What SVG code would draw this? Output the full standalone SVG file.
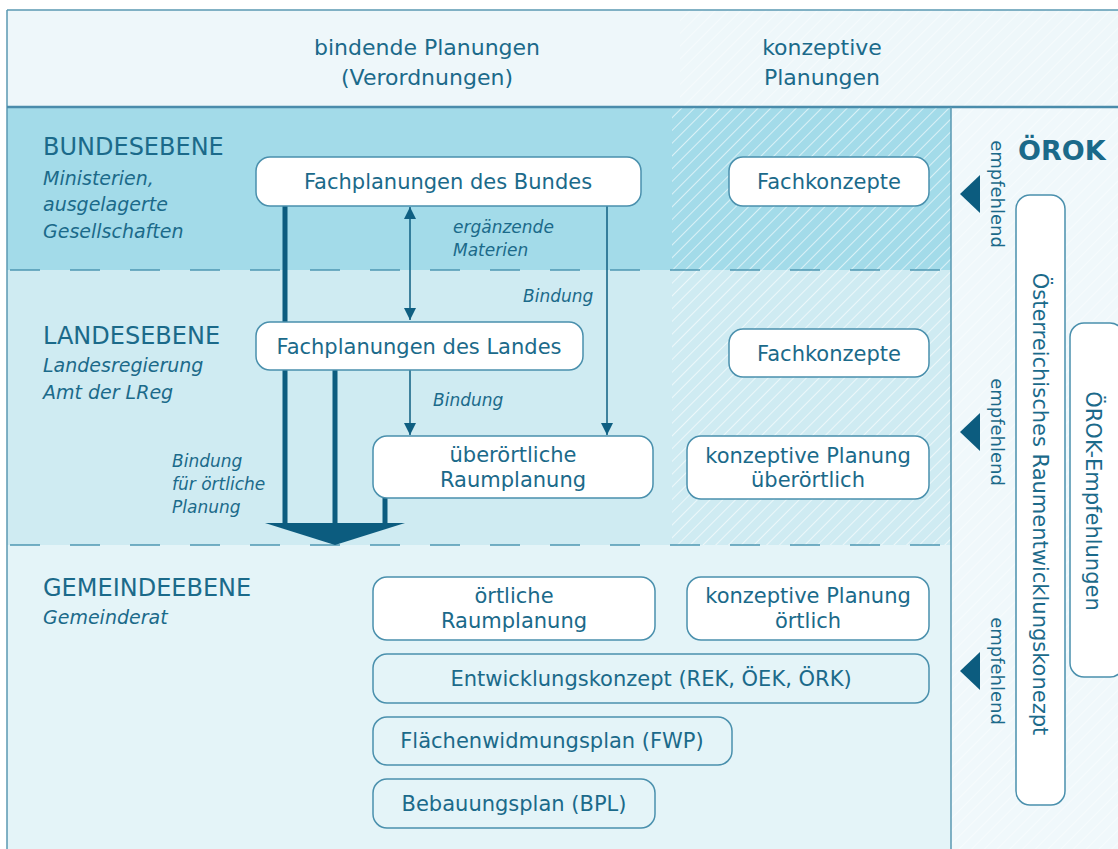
<svg xmlns="http://www.w3.org/2000/svg" width="1118" height="849" viewBox="0 0 1118 849">
<defs>
<pattern id="hatch" patternUnits="userSpaceOnUse" width="9" height="9" patternTransform="rotate(45)">
<line x1="0" y1="0" x2="0" y2="9" stroke="#ffffff" stroke-width="1.4" stroke-opacity="0.85"/>
</pattern>
<pattern id="hatchFaint" patternUnits="userSpaceOnUse" width="9" height="9" patternTransform="rotate(45)">
<line x1="0" y1="0" x2="0" y2="9" stroke="#ffffff" stroke-width="1.2" stroke-opacity="0.7"/>
</pattern>
<marker id="ah" markerUnits="userSpaceOnUse" markerWidth="12" markerHeight="12" viewBox="0 0 12 12" refX="12" refY="6" orient="auto-start-reverse">
<path d="M0,0 L12,6 L0,12 Z" fill="#0f5f82"/>
</marker>
<style>
.t{font-family:"DejaVu Sans",sans-serif;fill:#1b6a8a;}
.bx{font-size:21px;text-anchor:middle;}
.hd{font-size:24px;}
.it{font-family:"DejaVu Sans",sans-serif;font-style:italic;fill:#1b6a8a;font-size:19px;}
.lb{font-family:"DejaVu Sans",sans-serif;font-style:italic;fill:#1b6a8a;font-size:17px;}
.box{fill:#ffffff;stroke:#4a90ad;stroke-width:1.5;}
.boxo{fill:none;stroke:#4a90ad;stroke-width:1.5;}
.dash{stroke:#4f98b3;stroke-width:1.5;stroke-dasharray:30 30;}
.thin{stroke:#0f5f82;stroke-width:1.5;fill:none;}
.thick{stroke:#0c5c7f;stroke-width:5;fill:none;}
.tri{fill:#0c5c7f;}
.vt{font-family:"DejaVu Sans",sans-serif;fill:#1b6a8a;text-anchor:middle;}
</style>
</defs>

<!-- backgrounds -->
<rect x="0" y="0" width="1118" height="849" fill="#ffffff"/>
<rect x="7" y="10" width="1111" height="97" fill="#eef7fa"/>
<rect x="680" y="10" width="438" height="97" fill="url(#hatchFaint)"/>
<rect x="7" y="107" width="944" height="163" fill="#a3dbe9"/>
<rect x="7" y="270" width="944" height="275" fill="#cfebf2"/>
<rect x="7" y="545" width="944" height="304" fill="#e4f4f8"/>
<rect x="672" y="107" width="279" height="438" fill="url(#hatch)"/>
<rect x="951" y="107" width="167" height="742" fill="#f0f8fb"/>
<rect x="951" y="107" width="167" height="742" fill="url(#hatchFaint)"/>

<!-- frame lines -->
<line x1="7" y1="10" x2="1118" y2="10" stroke="#5a98b2" stroke-width="1.5"/>
<line x1="7" y1="10" x2="7" y2="849" stroke="#5a98b2" stroke-width="1.5"/>
<line x1="7" y1="107" x2="1118" y2="107" stroke="#4a8cab" stroke-width="2.5"/>
<line x1="951" y1="107" x2="951" y2="849" stroke="#5a98b2" stroke-width="1.5"/>
<line class="dash" x1="10" y1="270" x2="951" y2="270"/>
<line class="dash" x1="10" y1="545" x2="951" y2="545"/>

<!-- header texts -->
<text class="t" font-size="22" text-anchor="middle" x="427" y="55">bindende Planungen</text>
<text class="t" font-size="22" text-anchor="middle" x="427" y="85">(Verordnungen)</text>
<text class="t" font-size="22" text-anchor="middle" x="822" y="55">konzeptive</text>
<text class="t" font-size="22" text-anchor="middle" x="822" y="85">Planungen</text>

<!-- level labels -->
<g id="bundesebene">
<text class="t hd" x="43" y="155">BUNDESEBENE</text>
<text class="it" x="43" y="185">Ministerien,</text>
<text class="it" x="43" y="211">ausgelagerte</text>
<text class="it" x="43" y="238">Gesellschaften</text>
</g>
<g id="landesebene">
<text class="t hd" x="43" y="344">LANDESEBENE</text>
<text class="it" x="43" y="372">Landesregierung</text>
<text class="it" x="43" y="399">Amt der LReg</text>
</g>
<g id="gemeindeebene">
<text class="t hd" x="43" y="596">GEMEINDEEBENE</text>
<text class="it" x="43" y="624">Gemeinderat</text>
</g>

<!-- connectors -->
<g id="connectors">
<line class="thick" x1="285" y1="206" x2="285" y2="525"/>
<line class="thick" x1="335" y1="370" x2="335" y2="525"/>
<line class="thick" x1="385" y1="498" x2="385" y2="525"/>
<path class="tri" d="M265,523 L405,523 L335,545 Z"/>
<line class="thin" x1="410" y1="207" x2="410" y2="320" marker-start="url(#ah)" marker-end="url(#ah)"/>
<line class="thin" x1="607" y1="206" x2="607" y2="435" marker-end="url(#ah)"/>
<line class="thin" x1="410" y1="370" x2="410" y2="435" marker-end="url(#ah)"/>
<text class="lb" x="453" y="233">ergänzende</text>
<text class="lb" x="453" y="256">Materien</text>
<text class="lb" x="523" y="302">Bindung</text>
<text class="lb" x="433" y="406">Bindung</text>
<text class="lb" x="172" y="467">Bindung</text>
<text class="lb" x="172" y="490">für örtliche</text>
<text class="lb" x="172" y="513">Planung</text>
<path class="tri" d="M960,194 L980,175 L980,213 Z"/>
<path class="tri" d="M960,432 L980,413 L980,451 Z"/>
<path class="tri" d="M960,671 L980,652 L980,690 Z"/>
<text class="vt" font-size="18" transform="translate(991,194) rotate(90)">empfehlend</text>
<text class="vt" font-size="18" transform="translate(991,432) rotate(90)">empfehlend</text>
<text class="vt" font-size="18" transform="translate(991,671) rotate(90)">empfehlend</text>
</g>

<!-- nodes -->
<g id="fachplanungen-bund">
<rect class="box" x="256" y="157" width="385" height="49" rx="14"/>
<text class="t bx" x="448" y="189">Fachplanungen des Bundes</text>
</g>
<g id="fachkonzepte-bund">
<rect class="box" x="729" y="157" width="200" height="49" rx="14"/>
<text class="t bx" x="829" y="189">Fachkonzepte</text>
</g>
<g id="fachplanungen-land">
<rect class="box" x="256" y="322" width="327" height="48" rx="14"/>
<text class="t bx" x="419" y="354">Fachplanungen des Landes</text>
</g>
<g id="fachkonzepte-land">
<rect class="box" x="729" y="329" width="200" height="48" rx="14"/>
<text class="t bx" x="829" y="361">Fachkonzepte</text>
</g>
<g id="ueberoertliche-raumplanung">
<rect class="box" x="373" y="436" width="280" height="62" rx="14"/>
<text class="t bx" x="513" y="462">überörtliche</text>
<text class="t bx" x="513" y="487">Raumplanung</text>
</g>
<g id="konzeptive-ueberoertlich">
<rect class="box" x="687" y="436" width="242" height="63" rx="14"/>
<text class="t bx" x="808" y="463">konzeptive Planung</text>
<text class="t bx" x="808" y="487">überörtlich</text>
</g>
<g id="oertliche-raumplanung">
<rect class="box" x="373" y="577" width="282" height="63" rx="14"/>
<text class="t bx" x="514" y="603">örtliche</text>
<text class="t bx" x="514" y="628">Raumplanung</text>
</g>
<g id="konzeptive-oertlich">
<rect class="box" x="687" y="577" width="242" height="63" rx="14"/>
<text class="t bx" x="808" y="603">konzeptive Planung</text>
<text class="t bx" x="808" y="628">örtlich</text>
</g>
<g id="entwicklungskonzept">
<rect class="boxo" x="373" y="654" width="556" height="49" rx="14"/>
<text class="t bx" x="651" y="686">Entwicklungskonzept (REK, ÖEK, ÖRK)</text>
</g>
<g id="flaechenwidmungsplan">
<rect class="boxo" x="373" y="717" width="359" height="48" rx="14"/>
<text class="t bx" x="552" y="748">Flächenwidmungsplan (FWP)</text>
</g>
<g id="bebauungsplan">
<rect class="boxo" x="373" y="779" width="282" height="49" rx="14"/>
<text class="t bx" x="514" y="811">Bebauungsplan (BPL)</text>
</g>
<g id="oerok">
<text class="t" font-size="27" font-weight="bold" x="1018" y="160">ÖROK</text>
</g>
<g id="oerek">
<rect class="box" x="1016" y="195" width="49" height="610" rx="14"/>
<text class="vt" font-size="21" transform="translate(1033,504) rotate(90)">Österreichisches Raumentwicklungskonezpt</text>
</g>
<g id="oerok-empfehlungen">
<rect class="box" x="1070" y="323" width="54" height="354" rx="14"/>
<text class="vt" font-size="21" transform="translate(1086,501) rotate(90)">ÖROK-Empfehlungen</text>
</g>
</svg>
